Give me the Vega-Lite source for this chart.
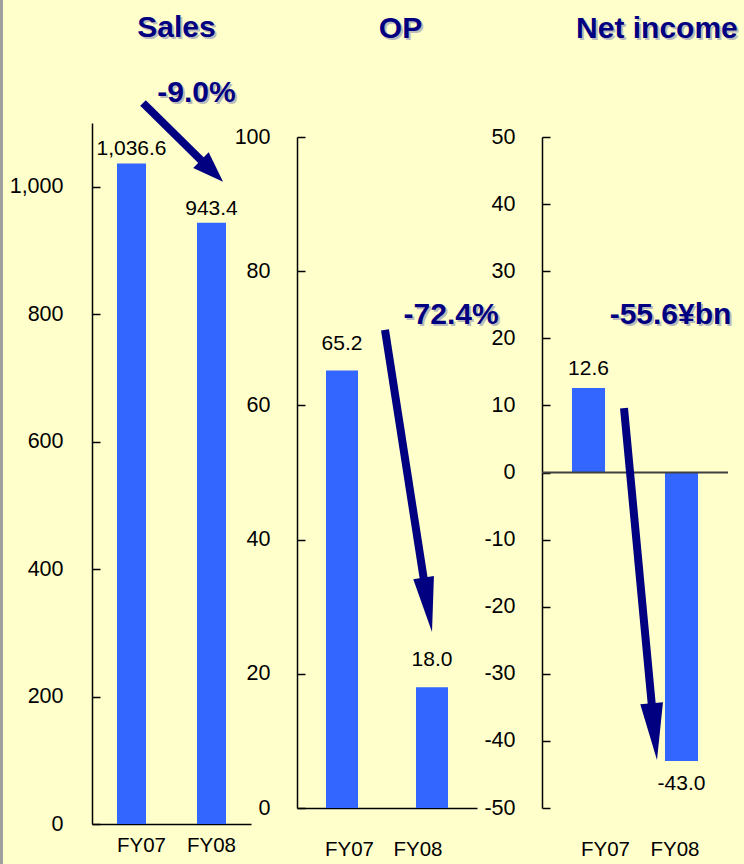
{
  "$schema": "https://vega.github.io/schema/vega-lite/v6.json",
  "width": 744,
  "height": 864,
  "autosize": {"type": "none"},
  "padding": 0,
  "background": "#FFFFCC",
  "config": {
    "view": {"stroke": null},
    "font": "Liberation Sans",
    "axis": {"grid": false, "domainColor": "#000000", "tickColor": "#000000", "labelColor": "#000000", "labelFont": "Liberation Sans", "domainWidth": 1.5, "tickWidth": 1.5},
    "locale": {"number": {"decimal": ".", "thousands": ",", "grouping": [3], "currency": ["$", ""], "minus": "-"}}
  },
  "datasets": {
    "sales": [{"year": "FY07", "value": 1036.6}, {"year": "FY08", "value": 943.4}],
    "op": [{"year": "FY07", "value": 65.2}, {"year": "FY08", "value": 18.0}],
    "net": [{"year": "FY07", "value": 12.6}, {"year": "FY08", "value": -43.0}]
  },
  "resolve": {"scale": {"x": "independent", "y": "independent"}, "axis": {"x": "independent", "y": "independent"}},
  "layer": [
    {
      "data": {"name": "sales"},
      "encoding": {
        "x": {"field": "year", "type": "nominal", "sort": null,
          "scale": {"range": [92, 251], "paddingInner": 0.6375, "paddingOuter": 0.3125},
          "axis": {"orient": "bottom", "offset": -40, "title": null, "labelAngle": 0, "ticks": false, "labelPadding": 11, "labelFontSize": 20.5,
            "labelOffset": {"condition": {"test": "datum.value === 'FY07'", "value": 10}, "value": 0}}},
        "y": {"field": "value", "type": "quantitative",
          "scale": {"domain": [0, 1100], "range": [824, 123], "nice": false, "zero": false},
          "axis": {"orient": "left", "offset": -92, "title": null, "values": [0, 200, 400, 600, 800, 1000], "format": ",d", "tickSize": -8, "labelPadding": 37, "labelFontSize": 21.5}}
      },
      "layer": [
        {"mark": {"type": "bar", "color": "#3366FF"}},
        {"mark": {"type": "text", "baseline": "alphabetic", "dy": -8, "fontSize": 21, "color": "#000000"},
         "encoding": {"text": {"field": "value", "type": "quantitative", "format": ",.1f"}}}
      ]
    },
    {
      "data": {"values": [{}]},
      "layer": [
        {"mark": {"type": "rule", "color": "#A0A0A0", "strokeWidth": 3},
         "encoding": {
           "x": {"datum": -0.5692, "type": "quantitative", "scale": {"domain": [0, 1], "range": [92, 251], "nice": false, "zero": false}, "axis": null},
           "y": {"datum": 1293, "type": "quantitative", "scale": {"domain": [0, 1100], "range": [824, 123], "nice": false, "zero": false}, "axis": null},
           "y2": {"datum": -63}}},
        {"mark": {"type": "rule", "color": "#000080", "strokeWidth": 8},
         "encoding": {
           "x": {"datum": 0.3208, "type": "quantitative", "scale": {"domain": [0, 1], "range": [92, 251], "nice": false, "zero": false}, "axis": null},
           "y": {"datum": 1131.4, "type": "quantitative", "scale": {"domain": [0, 1100], "range": [824, 123], "nice": false, "zero": false}, "axis": null},
           "x2": {"datum": 0.7547}, "y2": {"datum": 1024.7}}},
        {"mark": {"type": "point", "shape": "M0,-1L-0.71,1L0.71,1Z", "size": 961, "angle": 134.6, "filled": true, "color": "#000080", "opacity": 1, "strokeWidth": 0},
         "encoding": {
           "x": {"datum": 0.7547, "type": "quantitative", "scale": {"domain": [0, 1], "range": [92, 251], "nice": false, "zero": false}, "axis": null},
           "y": {"datum": 1024.7, "type": "quantitative", "scale": {"domain": [0, 1100], "range": [824, 123], "nice": false, "zero": false}, "axis": null}}},
        {"mark": {"type": "text", "text": "Sales", "fontSize": 30, "fontWeight": "bold", "color": "#BBBBBB", "align": "center", "baseline": "alphabetic", "dx": 2, "dy": 2},
         "encoding": {
           "x": {"datum": 0.531, "type": "quantitative", "scale": {"domain": [0, 1], "range": [92, 251], "nice": false, "zero": false}, "axis": null},
           "y": {"datum": 1234.2, "type": "quantitative", "scale": {"domain": [0, 1100], "range": [824, 123], "nice": false, "zero": false}, "axis": null}}},
        {"mark": {"type": "text", "text": "Sales", "fontSize": 30, "fontWeight": "bold", "color": "#000080", "align": "center", "baseline": "alphabetic"},
         "encoding": {
           "x": {"datum": 0.531, "type": "quantitative", "scale": {"domain": [0, 1], "range": [92, 251], "nice": false, "zero": false}, "axis": null},
           "y": {"datum": 1234.2, "type": "quantitative", "scale": {"domain": [0, 1100], "range": [824, 123], "nice": false, "zero": false}, "axis": null}}},
        {"mark": {"type": "text", "text": "-9.0%", "fontSize": 30, "fontWeight": "bold", "color": "#BBBBBB", "align": "center", "baseline": "alphabetic", "dx": 2, "dy": 2},
         "encoding": {
           "x": {"datum": 0.657, "type": "quantitative", "scale": {"domain": [0, 1], "range": [92, 251], "nice": false, "zero": false}, "axis": null},
           "y": {"datum": 1133, "type": "quantitative", "scale": {"domain": [0, 1100], "range": [824, 123], "nice": false, "zero": false}, "axis": null}}},
        {"mark": {"type": "text", "text": "-9.0%", "fontSize": 30, "fontWeight": "bold", "color": "#000080", "align": "center", "baseline": "alphabetic"},
         "encoding": {
           "x": {"datum": 0.657, "type": "quantitative", "scale": {"domain": [0, 1], "range": [92, 251], "nice": false, "zero": false}, "axis": null},
           "y": {"datum": 1133, "type": "quantitative", "scale": {"domain": [0, 1100], "range": [824, 123], "nice": false, "zero": false}, "axis": null}}}
      ]
    },
    {
      "data": {"name": "op"},
      "encoding": {
        "x": {"field": "year", "type": "nominal", "sort": null,
          "scale": {"range": [297, 477], "paddingInner": 0.6444, "paddingOuter": 0.3222},
          "axis": {"orient": "bottom", "offset": -56, "title": null, "labelAngle": 0, "ticks": false, "labelPadding": 31, "labelFontSize": 20.5,
            "labelOffset": {"condition": {"test": "datum.value === 'FY07'", "value": 7.5}, "value": -14}}},
        "y": {"field": "value", "type": "quantitative",
          "scale": {"domain": [0, 100], "range": [808, 137], "nice": false, "zero": false},
          "axis": {"orient": "left", "offset": -297, "title": null, "values": [0, 20, 40, 60, 80, 100], "format": "d", "tickSize": -8, "labelPadding": 35, "labelFontSize": 21.5}}
      },
      "layer": [
        {"mark": {"type": "bar", "color": "#3366FF"}},
        {"mark": {"type": "text", "baseline": "alphabetic", "dy": -21, "fontSize": 21, "color": "#000000"},
         "encoding": {"text": {"field": "value", "type": "quantitative", "format": ".1f"}}}
      ]
    },
    {
      "data": {"values": [{}]},
      "layer": [
        {"mark": {"type": "rule", "color": "#000080", "strokeWidth": 8},
         "encoding": {
           "x": {"datum": 0.4889, "type": "quantitative", "scale": {"domain": [0, 1], "range": [297, 477], "nice": false, "zero": false}, "axis": null},
           "y": {"datum": 71.24, "type": "quantitative", "scale": {"domain": [0, 100], "range": [808, 137], "nice": false, "zero": false}, "axis": null},
           "x2": {"datum": 0.7267}, "y2": {"datum": 30.28}}},
        {"mark": {"type": "point", "shape": "M0,-1L-0.38,1L0.38,1Z", "size": 3025, "angle": 171.2, "filled": true, "color": "#000080", "opacity": 1, "strokeWidth": 0},
         "encoding": {
           "x": {"datum": 0.7267, "type": "quantitative", "scale": {"domain": [0, 1], "range": [297, 477], "nice": false, "zero": false}, "axis": null},
           "y": {"datum": 30.28, "type": "quantitative", "scale": {"domain": [0, 100], "range": [808, 137], "nice": false, "zero": false}, "axis": null}}},
        {"mark": {"type": "text", "text": "OP", "fontSize": 30, "fontWeight": "bold", "color": "#BBBBBB", "align": "center", "baseline": "alphabetic", "dx": 2, "dy": 2},
         "encoding": {
           "x": {"datum": 0.575, "type": "quantitative", "scale": {"domain": [0, 1], "range": [297, 477], "nice": false, "zero": false}, "axis": null},
           "y": {"datum": 114.75, "type": "quantitative", "scale": {"domain": [0, 100], "range": [808, 137], "nice": false, "zero": false}, "axis": null}}},
        {"mark": {"type": "text", "text": "OP", "fontSize": 30, "fontWeight": "bold", "color": "#000080", "align": "center", "baseline": "alphabetic"},
         "encoding": {
           "x": {"datum": 0.575, "type": "quantitative", "scale": {"domain": [0, 1], "range": [297, 477], "nice": false, "zero": false}, "axis": null},
           "y": {"datum": 114.75, "type": "quantitative", "scale": {"domain": [0, 100], "range": [808, 137], "nice": false, "zero": false}, "axis": null}}},
        {"mark": {"type": "text", "text": "-72.4%", "fontSize": 30, "fontWeight": "bold", "color": "#BBBBBB", "align": "center", "baseline": "alphabetic", "dx": 2, "dy": 2},
         "encoding": {
           "x": {"datum": 0.856, "type": "quantitative", "scale": {"domain": [0, 1], "range": [297, 477], "nice": false, "zero": false}, "axis": null},
           "y": {"datum": 72.13, "type": "quantitative", "scale": {"domain": [0, 100], "range": [808, 137], "nice": false, "zero": false}, "axis": null}}},
        {"mark": {"type": "text", "text": "-72.4%", "fontSize": 30, "fontWeight": "bold", "color": "#000080", "align": "center", "baseline": "alphabetic"},
         "encoding": {
           "x": {"datum": 0.856, "type": "quantitative", "scale": {"domain": [0, 1], "range": [297, 477], "nice": false, "zero": false}, "axis": null},
           "y": {"datum": 72.13, "type": "quantitative", "scale": {"domain": [0, 100], "range": [808, 137], "nice": false, "zero": false}, "axis": null}}}
      ]
    },
    {
      "data": {"name": "net"},
      "encoding": {
        "x": {"field": "year", "type": "nominal", "sort": null,
          "scale": {"range": [542, 728], "paddingInner": 0.645, "paddingOuter": 0.3226},
          "axis": {"orient": "bottom", "offset": -56, "title": null, "labelAngle": 0, "ticks": false, "domain": false, "labelPadding": 31, "labelFontSize": 20.5,
            "labelOffset": {"condition": {"test": "datum.value === 'FY07'", "value": 17}, "value": -6.5}}},
        "y": {"field": "value", "type": "quantitative",
          "scale": {"domain": [-50, 50], "range": [808, 137], "nice": false, "zero": false},
          "axis": {"orient": "left", "offset": -542, "title": null, "values": [-50, -40, -30, -20, -10, 0, 10, 20, 30, 40, 50], "format": "d", "tickSize": -8, "labelPadding": 35, "labelFontSize": 21.5}}
      },
      "layer": [
        {"mark": {"type": "bar", "color": "#3366FF"}},
        {"transform": [{"filter": "datum.value >= 0"}],
         "mark": {"type": "text", "baseline": "alphabetic", "dy": -13, "fontSize": 21, "color": "#000000"},
         "encoding": {"text": {"field": "value", "type": "quantitative", "format": ".1f"}}},
        {"transform": [{"filter": "datum.value < 0"}],
         "mark": {"type": "text", "baseline": "top", "dy": 12, "fontSize": 21, "color": "#000000"},
         "encoding": {"text": {"field": "value", "type": "quantitative", "format": ".1f"}}}
      ]
    },
    {
      "data": {"values": [{}]},
      "layer": [
        {"mark": {"type": "rule", "color": "#404040", "strokeWidth": 2},
         "encoding": {
           "x": {"datum": 0, "type": "quantitative", "scale": {"domain": [0, 1], "range": [542, 728], "nice": false, "zero": false}, "axis": null},
           "y": {"datum": 0, "type": "quantitative", "scale": {"domain": [-50, 50], "range": [808, 137], "nice": false, "zero": false}, "axis": null},
           "x2": {"datum": 1}}},
        {"mark": {"type": "rule", "color": "#000080", "strokeWidth": 8},
         "encoding": {
           "x": {"datum": 0.4409, "type": "quantitative", "scale": {"domain": [0, 1], "range": [542, 728], "nice": false, "zero": false}, "axis": null},
           "y": {"datum": 9.61, "type": "quantitative", "scale": {"domain": [-50, 50], "range": [808, 137], "nice": false, "zero": false}, "axis": null},
           "x2": {"datum": 0.6038}, "y2": {"datum": -38.61}}},
        {"mark": {"type": "point", "shape": "M0,-1L-0.4,1L0.4,1Z", "size": 3249, "angle": 174.6, "filled": true, "color": "#000080", "opacity": 1, "strokeWidth": 0},
         "encoding": {
           "x": {"datum": 0.6038, "type": "quantitative", "scale": {"domain": [0, 1], "range": [542, 728], "nice": false, "zero": false}, "axis": null},
           "y": {"datum": -38.61, "type": "quantitative", "scale": {"domain": [-50, 50], "range": [808, 137], "nice": false, "zero": false}, "axis": null}}},
        {"mark": {"type": "text", "text": "Net income", "fontSize": 30, "fontWeight": "bold", "color": "#BBBBBB", "align": "center", "baseline": "alphabetic", "dx": 2, "dy": 2},
         "encoding": {
           "x": {"datum": 0.618, "type": "quantitative", "scale": {"domain": [0, 1], "range": [542, 728], "nice": false, "zero": false}, "axis": null},
           "y": {"datum": 64.75, "type": "quantitative", "scale": {"domain": [-50, 50], "range": [808, 137], "nice": false, "zero": false}, "axis": null}}},
        {"mark": {"type": "text", "text": "Net income", "fontSize": 30, "fontWeight": "bold", "color": "#000080", "align": "center", "baseline": "alphabetic"},
         "encoding": {
           "x": {"datum": 0.618, "type": "quantitative", "scale": {"domain": [0, 1], "range": [542, 728], "nice": false, "zero": false}, "axis": null},
           "y": {"datum": 64.75, "type": "quantitative", "scale": {"domain": [-50, 50], "range": [808, 137], "nice": false, "zero": false}, "axis": null}}},
        {"mark": {"type": "text", "text": "-55.6¥bn", "fontSize": 30, "fontWeight": "bold", "color": "#BBBBBB", "align": "center", "baseline": "alphabetic", "dx": 2, "dy": 2},
         "encoding": {
           "x": {"datum": 0.691, "type": "quantitative", "scale": {"domain": [0, 1], "range": [542, 728], "nice": false, "zero": false}, "axis": null},
           "y": {"datum": 22.13, "type": "quantitative", "scale": {"domain": [-50, 50], "range": [808, 137], "nice": false, "zero": false}, "axis": null}}},
        {"mark": {"type": "text", "text": "-55.6¥bn", "fontSize": 30, "fontWeight": "bold", "color": "#000080", "align": "center", "baseline": "alphabetic"},
         "encoding": {
           "x": {"datum": 0.691, "type": "quantitative", "scale": {"domain": [0, 1], "range": [542, 728], "nice": false, "zero": false}, "axis": null},
           "y": {"datum": 22.13, "type": "quantitative", "scale": {"domain": [-50, 50], "range": [808, 137], "nice": false, "zero": false}, "axis": null}}}
      ]
    }
  ]
}
